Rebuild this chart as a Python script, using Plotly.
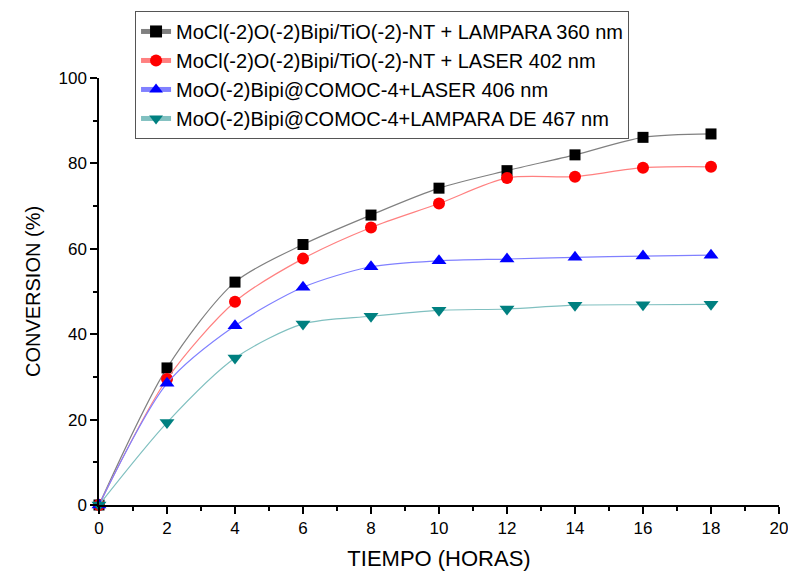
import plotly.graph_objects as go

tiempo = [0, 2, 4, 6, 8, 10, 12, 14, 16, 18]
lampara_360 = [0, 32.1, 52.2, 61.0, 67.9, 74.2, 78.3, 82.0, 86.1, 86.9]
laser_402 = [0, 29.5, 47.6, 57.7, 65.0, 70.6, 76.6, 76.9, 79.0, 79.2]
laser_406 = [0, 28.5, 42.0, 51.0, 55.8, 57.2, 57.6, 58.0, 58.3, 58.5]
lampara_467 = [0, 19.3, 34.4, 42.4, 44.2, 45.6, 45.9, 46.8, 46.9, 47.0]

names = [
    "MoCl(-2)O(-2)Bipi/TiO(-2)-NT + LAMPARA 360 nm",
    "MoCl(-2)O(-2)Bipi/TiO(-2)-NT + LASER 402 nm",
    "MoO(-2)Bipi@COMOC-4+LASER 406 nm",
    "MoO(-2)Bipi@COMOC-4+LAMPARA DE 467 nm",
]
series = [lampara_360, laser_402, laser_406, lampara_467]
marker_colors = ["#000000", "#ff0000", "#0000ff", "#008080"]
line_colors = ["#808080", "#ff8080", "#8080ff", "#80c0c0"]
symbols = ["square", "circle", "triangle-up", "triangle-down"]
sizes = [11, 12, 13, 13]

FONT = "Liberation Sans, Arial, sans-serif"

fig = go.Figure()
for n, s, mc, lc, sym, sz in zip(names, series, marker_colors, line_colors, symbols, sizes):
    fig.add_trace(go.Scatter(
        x=tiempo, y=s, name=n, mode="lines+markers",
        line=dict(color=lc, width=1.2, shape="spline", smoothing=0.8),
        marker=dict(symbol=sym, color=mc, size=sz, line=dict(width=0)),
        cliponaxis=False,
    ))

axis_font = dict(family=FONT, size=17, color="#000")
fig.update_layout(
    width=788, height=571,
    margin=dict(l=99, r=9, t=78, b=66),
    paper_bgcolor="white", plot_bgcolor="white",
    font=dict(family=FONT, color="#000"),
    legend=dict(
        x=0.053, y=1.157, xanchor="left", yanchor="top",
        bordercolor="#555", borderwidth=1, bgcolor="white",
        font=dict(size=20, family=FONT),
        tracegroupgap=0, itemsizing="constant",
    ),
    xaxis=dict(
        range=[0, 20], dtick=2, tick0=0, automargin=False,
        ticklabeloverflow="allow",
        showline=True, linecolor="#000", linewidth=1.5,
        ticks="outside", ticklen=7, tickwidth=1.5, tickcolor="#000",
        minor=dict(dtick=1, ticklen=4, tickwidth=1.5, tickcolor="#000", ticks="outside", showgrid=False),
        showgrid=False, zeroline=False, tickfont=axis_font,
        title=dict(text="TIEMPO (HORAS)", font=dict(size=22, family=FONT), standoff=14),
    ),
    yaxis=dict(
        range=[0, 100], dtick=20, tick0=0, automargin=False,
        ticklabeloverflow="allow",
        showline=True, linecolor="#000", linewidth=1.5,
        ticks="outside", ticklen=7, tickwidth=1.5, tickcolor="#000",
        minor=dict(dtick=10, ticklen=4, tickwidth=1.5, tickcolor="#000", ticks="outside", showgrid=False),
        showgrid=False, zeroline=False, tickfont=axis_font,
        title=dict(text="CONVERSION (%)", font=dict(size=20, family=FONT), standoff=12),
    ),
)

fig.write_html("out.html")
